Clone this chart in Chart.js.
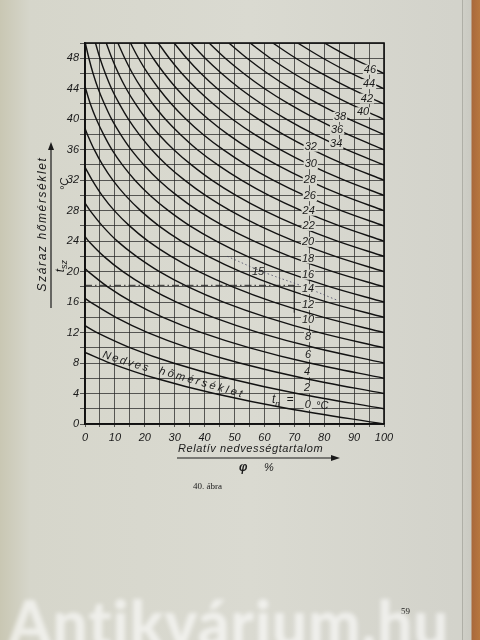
<!DOCTYPE html>
<html>
<head>
<meta charset="utf-8">
<script src="https://cdn.jsdelivr.net/npm/chart.js@4.4.0/dist/chart.umd.min.js"></script>
<style>
  body { margin: 0; width: 480px; height: 640px; overflow: hidden; position: relative;
         background: linear-gradient(to right, #c9c7b3 0px, #d6d6cb 30px, #dadad1 250px, #d3d3cb 455px); }
  #wrap { position: absolute; left: 0; top: 0; width: 480px; height: 640px; }
  .t { position: absolute; font-family: "Liberation Sans", sans-serif; font-style: italic; color: #1a1a1a; white-space: nowrap; }
  .serif { position: absolute; font-family: "Liberation Serif", serif; color: #1a1a1a; font-size: 9px; }
  #edge { position: absolute; left: 462px; top: 0; width: 18px; height: 640px;
          background: linear-gradient(to right, #8f8f86 0px, #cfcfc7 1px, #cacac2 9px, #a9693c 10px, #b7773f 18px); }
  #mark { position: absolute; left: 8px; top: 585px; font-family: Lato, sans-serif; font-weight: 900;
          font-size: 62px; color: rgba(255,255,255,0.6); filter: blur(2px); letter-spacing: 1px; }
</style>
</head>
<body>
<div id="wrap"><canvas id="chart"></canvas></div>

<div class="t" style="left:-25px; top:217px; font-size:12px; letter-spacing:1.6px; transform: rotate(-90deg);">Száraz hőmérséklet</div>
<svg style="position:absolute; left:45px; top:140px;" width="12" height="170">
  <line x1="6" y1="168" x2="6" y2="6" stroke="#1a1a1a" stroke-width="1.2"/>
  <path d="M6 2 L3 10 L9 10 Z" fill="#1a1a1a"/>
</svg>
<div class="t" style="left:55px; top:258px; font-size:12px; transform: rotate(-90deg);">t<sub style="font-size:9px">sz</sub></div>
<div class="t" style="left:58px; top:178px; font-size:11px; transform: rotate(-90deg);">°C</div>

<div class="t" style="left:178px; top:442px; font-size:11px; letter-spacing:0.6px;">Relatív nedvességtartalom</div>
<svg style="position:absolute; left:176px; top:453px;" width="166" height="10">
  <line x1="1" y1="5" x2="158" y2="5" stroke="#1a1a1a" stroke-width="1.2"/>
  <path d="M164 5 L155 2 L155 8 Z" fill="#1a1a1a"/>
</svg>
<div class="t" style="left:239px; top:460px; font-size:12px; font-weight:bold;">φ</div>
<div class="t" style="left:264px; top:461px; font-size:11px;">%</div>

<div class="t" style="left:102px; top:355px; font-size:11px; letter-spacing:2px; transform: rotate(17deg);">Nedves</div>
<div class="t" style="left:158px; top:376px; font-size:11px; letter-spacing:2.6px; transform: rotate(16deg);">hőmérséklet</div>
<div class="t" style="left:272px; top:392px; font-size:12px;">t<sub style="font-size:8px">n</sub>&nbsp; =</div>
<div class="t" style="left:316px; top:399px; font-size:11px;">°C</div>

<div class="serif" style="left:193px; top:481px;">40. ábra</div>
<div class="serif" style="left:401px; top:606px;">59</div>
<div id="edge"></div>
<div id="mark">Antikvárium.hu</div>

<script>
// wet bulb temperature of each curve (°C)
const wetBulb = [0, 2, 4, 6, 8, 10, 12, 14, 16, 18, 20, 22, 24, 26, 28, 30, 32, 34, 36, 38, 40, 42, 44, 46];
// dry temperatures at which the relative humidity is read
const dryTemps = [0, 2, 4, 6, 8, 10, 12, 14, 16, 18, 20, 22, 24, 26, 28, 30, 32, 34, 36, 38, 40, 42, 44, 46, 48, 50];

// relative humidity (%) along each curve, starting at t = tn and going up by 2 °C
const rh00 = [100, 68.2, 43.2, 23.6, 8.4];
const rh02 = [100, 70.9, 47.8, 29.5, 15.2, 4.0];
const rh04 = [100, 73.1, 51.7, 34.6, 21.0, 10.3, 1.8];
const rh06 = [100, 75.1, 55.1, 39.0, 26.1, 15.8, 7.6, 1.1];
const rh08 = [100, 76.9, 58.1, 42.9, 30.6, 20.7, 12.7, 6.3, 1.2];
const rh10 = [100, 78.4, 60.8, 46.3, 34.5, 24.9, 17.2, 10.8, 5.8, 1.7];
const rh12 = [100, 79.8, 63.1, 49.4, 38.1, 28.8, 21.1, 14.9, 9.8, 5.7, 2.4];
const rh14 = [100, 81.0, 65.1, 52.0, 41.2, 32.2, 24.7, 18.6, 13.5, 9.3, 5.9, 3.1, 0.8];
const rh16 = [100, 82.0, 66.9, 54.3, 43.9, 35.1, 27.9, 21.8, 16.7, 12.5, 9.0, 6.2, 3.8, 1.8];
const rh18 = [100, 82.9, 68.5, 56.5, 46.3, 37.8, 30.7, 24.7, 19.7, 15.4, 11.9, 8.9, 6.5, 4.4, 2.7, 1.3, 0.1];
const rh20 = [100, 83.7, 70.0, 58.4, 48.6, 40.3, 33.3, 27.3, 22.3, 18.1, 14.5, 11.5, 8.9, 6.8, 5.0, 3.5];
const rh22 = [100, 84.4, 71.2, 60.0, 50.5, 42.4, 35.6, 29.7, 24.7, 20.5, 16.9, 13.8, 11.2, 9.0, 7.1];
const rh24 = [100, 85.1, 72.4, 61.5, 52.3, 44.4, 37.6, 31.9, 26.9, 22.7, 19.0, 15.9, 13.3, 11.0];
const rh26 = [100, 85.7, 73.4, 62.9, 53.9, 46.2, 39.5, 33.8, 28.9, 24.7, 21.0, 17.9, 15.2];
const rh28 = [100, 86.2, 74.4, 64.2, 55.4, 47.8, 41.3, 35.6, 30.7, 26.5, 22.8, 19.7];
const rh30 = [100, 86.7, 75.2, 65.3, 56.7, 49.3, 42.9, 37.3, 32.4, 28.2, 24.5];
const rh32 = [100, 87.1, 76.0, 66.3, 58.0, 50.7, 44.3, 38.8, 34.0, 29.8];
const rh34 = [100, 87.5, 76.7, 67.3, 59.1, 51.9, 45.7, 40.2, 35.4];
const rh36 = [100, 87.9, 77.4, 68.2, 60.1, 53.1, 46.9, 41.5];
const rh38 = [100, 88.3, 78.0, 69.0, 61.1, 54.2, 48.1];
const rh40 = [100, 88.6, 78.6, 69.8, 62.0, 55.2];
const rh42 = [100, 88.9, 79.1, 70.5, 62.8];
const rh44 = [100, 89.1, 79.6, 71.1];
const rh46 = [100, 89.4, 80.0];
const curveRH = [rh00, rh02, rh04, rh06, rh08, rh10, rh12, rh14, rh16, rh18, rh20, rh22,
                 rh24, rh26, rh28, rh30, rh32, rh34, rh36, rh38, rh40, rh42, rh44, rh46];

// dry temperature where each curve meets 0 % (only the lower ones reach it)
const dryAtZeroRH = [9.4, 12.9, 16.5, 20.4, 24.6, 29.0, 33.7, 38.8, 44.3];

// curve labels, placed by (relative humidity, dry temperature)
const labelText = ['0', '2', '4', '6', '8', '10', '12', '14', '16', '18', '20', '22',
                   '24', '26', '28', '30', '32', '34', '36', '38', '40', '42', '44', '46'];
const labelRH = [74.5, 74.3, 74.3, 74.6, 74.6, 74.6, 74.6, 74.6, 74.6, 74.6, 74.6, 74.8,
                 74.8, 75.2, 75.2, 75.5, 75.5, 84.0, 84.3, 85.3, 93.0, 94.3, 95.0, 95.3];
const labelT = [2.5, 4.7, 6.8, 9.1, 11.4, 13.6, 15.6, 17.7, 19.6, 21.7, 23.9, 26.0,
                28.0, 29.9, 32.0, 34.1, 36.4, 36.7, 38.6, 40.3, 40.9, 42.7, 44.6, 46.5];

// worked example: tn = 15 °C curve piece, t = 18 °C line, reading at 70 %
const exampleRH = [84.0, 73.3, 59.3, 47.6];
const exampleT = [16.3, 18, 20, 22];
const exampleDry = 18.2;
const exampleReadRH = 70;
const exampleLow = 14.6;

const datasets = wetBulb.map((tn, i) => {
  const start = dryTemps.indexOf(tn);
  const pts = curveRH[i].map((phi, k) => ({ x: phi, y: dryTemps[start + k] }));
  if (dryAtZeroRH[i] !== undefined) pts.push({ x: 0, y: dryAtZeroRH[i] });
  return { data: pts, borderColor: '#121212', borderWidth: 1.4, tension: 0.35, pointRadius: 0 };
});
datasets.push({
  data: exampleRH.map((phi, k) => ({ x: phi, y: exampleT[k] })),
  borderColor: 'rgba(60,60,90,0.75)', borderWidth: 1, borderDash: [1.5, 2.5], tension: 0.35, pointRadius: 0
});
datasets.push({
  data: [{ x: 0, y: exampleDry }, { x: exampleReadRH, y: exampleDry }],
  borderColor: '#2a2a2a', borderWidth: 1, borderDash: [7, 3, 1.5, 3], pointRadius: 0
});
datasets.push({
  data: [{ x: exampleReadRH, y: exampleDry }, { x: exampleReadRH, y: exampleLow }],
  borderColor: '#2a2a2a', borderWidth: 1.2, pointRadius: 0
});

const tickFont = { family: 'Liberation Sans', style: 'italic', size: 11 };

const labelPlugin = {
  id: 'curveLabels',
  afterDatasetsDraw(chart) {
    const { ctx, scales: { x, y }, chartArea } = chart;
    ctx.save();
    ctx.font = 'italic 11px "Liberation Sans"';
    ctx.textAlign = 'center';
    ctx.textBaseline = 'middle';
    labelText.forEach((txt, i) => {
      const px = x.getPixelForValue(labelRH[i]);
      const py = y.getPixelForValue(labelT[i]);
      const w = ctx.measureText(txt).width;
      ctx.fillStyle = '#d8d8cf';
      ctx.fillRect(px - w / 2 - 1, py - 5, w + 2, 10);
      ctx.fillStyle = '#1a1a1a';
      ctx.fillText(txt, px, py);
    });
    ctx.fillText('15', x.getPixelForValue(57.9), y.getPixelForValue(19.9));
    // frame
    ctx.strokeStyle = '#111';
    ctx.lineWidth = 1.6;
    ctx.strokeRect(chartArea.left, chartArea.top, chartArea.right - chartArea.left, chartArea.bottom - chartArea.top);
    ctx.restore();
  }
};

new Chart(document.getElementById('chart'), {
  type: 'scatter',
  data: { datasets },
  plugins: [labelPlugin],
  options: {
    responsive: true,
    maintainAspectRatio: false,
    animation: false,
    showLine: true,
    layout: { autoPadding: false, padding: { left: 0, top: 43, right: 96, bottom: 186 } },
    plugins: { legend: { display: false }, tooltip: { enabled: false } },
    scales: {
      x: {
        type: 'linear', min: 0, max: 100,
        afterFit: s => { s.height = 30; },
        ticks: { stepSize: 5, autoSkip: false, maxRotation: 0, padding: 4, color: '#1a1a1a', font: tickFont,
                 callback: v => (v % 10 === 0 ? v : '') },
        grid: { color: 'rgba(35,35,35,0.72)', lineWidth: 1, tickLength: 3 },
        border: { color: '#111', width: 1.6 }
      },
      y: {
        type: 'linear', min: 0, max: 50,
        afterFit: s => { s.width = 85; },
        ticks: { stepSize: 2, autoSkip: false, padding: 1, color: '#1a1a1a', font: tickFont,
                 callback: v => (v % 4 === 0 && v <= 48 ? v : '') },
        grid: { color: 'rgba(35,35,35,0.72)', lineWidth: 1, tickLength: 5 },
        border: { color: '#111', width: 1.6 }
      }
    }
  }
});
</script>
</body>
</html>
